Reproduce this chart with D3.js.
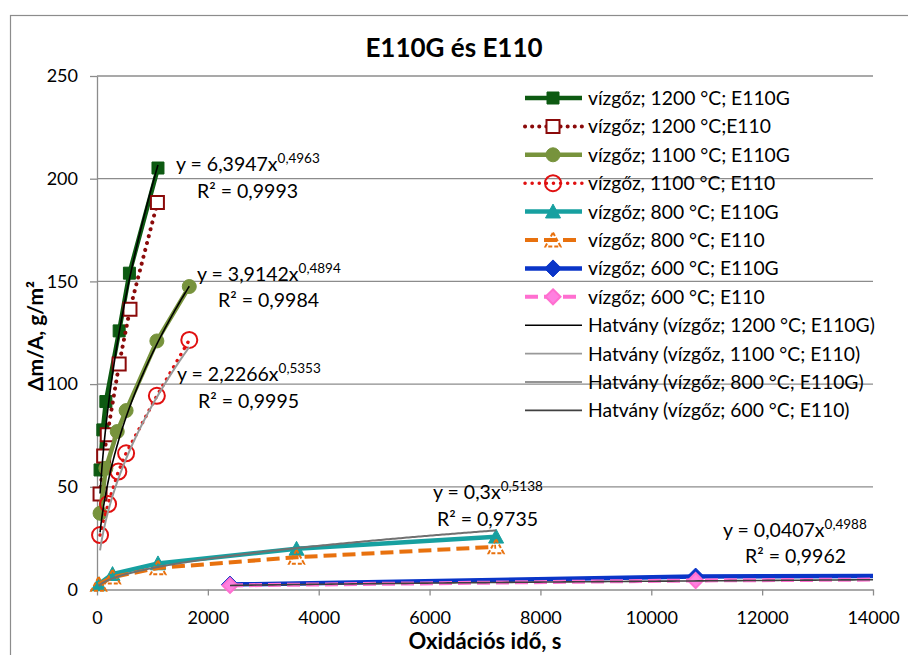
<!DOCTYPE html>
<html>
<head>
<meta charset="utf-8">
<script src="https://cdn.jsdelivr.net/npm/d3@7"></script>
<style>
  body { margin: 0; background: #fff; }
  svg { font-family: Lato, "Liberation Sans", sans-serif; }
</style>
</head>
<body>
<div id="graph"></div>
<script>
// measured data (time s, mass gain g/m2)
var t1200G = [55, 105, 160, 400, 585, 1100];
var m1200G = [58.2, 77.7, 91.5, 125.9, 154, 205.2];
var t1200 = [55, 120, 185, 400, 595, 1090];
var m1200 = [46.5, 65, 75.3, 109.8, 136.5, 188.4];
var t1100G = [55, 160, 365, 525, 1080, 1665];
var m1100G = [37.1, 59, 76.9, 87.1, 121, 147.5];
var t1100 = [55, 200, 385, 525, 1080, 1665];
var m1100 = [26.5, 41.6, 57.4, 66.3, 94.3, 121.5];
var t800G = [30, 280, 1100, 3600, 7200];
var m800G = [2.5, 7.5, 12.7, 19.8, 25.7];
var t800 = [30, 280, 1100, 3600, 7200];
var m800 = [2.5, 6.0, 10.5, 15.7, 20.8];
var t600G = [2400, 10800, 21600];
var m600G = [2.4, 6.3, 7.2];
var t600 = [2400, 10800, 21600];
var m600 = [2.0, 4.4, 5.8];

var seriesNames = ["vízgőz; 1200 °C; E110G", "vízgőz; 1200 °C;E110", "vízgőz; 1100 °C; E110G", "vízgőz, 1100 °C; E110",
  "vízgőz; 800 °C; E110G", "vízgőz; 800 °C; E110", "vízgőz; 600 °C; E110G", "vízgőz; 600 °C; E110"];

// power trendlines y = a * x^b
var trendSeries = [0, 2, 3, 4, 7];
var trendA = [6.3947, 3.9142, 2.2266, 0.3, 0.0407];
var trendB = [0.4963, 0.4894, 0.5353, 0.5138, 0.4988];
var trendR2 = ["0,9993", "0,9984", "0,9995", "0,9735", "0,9962"];
var trendNames = ["Hatvány (vízgőz; 1200 °C; E110G)", "Hatvány (vízgőz, 1100 °C; E110)", "Hatvány (vízgőz; 800 °C; E110G)", "Hatvány (vízgőz; 600 °C; E110)"];

var xTicks = [0, 2000, 4000, 6000, 8000, 10000, 12000, 14000];
var yTicks = [0, 50, 100, 150, 200, 250];

var width = 908, height = 655;
var x = d3.scaleLinear().domain([0, 14000]).range([97, 873]);
var y = d3.scaleLinear().domain([0, 250]).range([589.5, 76]);

var times = [t1200G, t1200, t1100G, t1100, t800G, t800, t600G, t600];
var masses = [m1200G, m1200, m1100G, m1100, m800G, m800, m600G, m600];

var styles = [
  {color: "#0d5a12", width: 4.5, dash: null, marker: "square", fill: "#0d5a12", size: 12},
  {color: "#8b0a0a", width: 4, dash: "0.1 7", marker: "square", fill: "#fff", size: 13},
  {color: "#77933c", width: 4.5, dash: null, marker: "circle", fill: "#77933c", size: 14},
  {color: "#e01010", width: 3.5, dash: "0.1 7", marker: "circle", fill: "none", size: 16},
  {color: "#17a0a0", width: 4.5, dash: null, marker: "triangle", fill: "#17a0a0", size: 15},
  {color: "#e8710e", width: 4, dash: "13 6", marker: "triangle", fill: "none", size: 15},
  {color: "#0a35c8", width: 4.5, dash: null, marker: "diamond", fill: "#0a35c8", size: 17},
  {color: "#ff6fd0", width: 4, dash: "13 6", marker: "diamond", fill: "#ff80e0", size: 15}
];
var trendColors = ["#000", "#000", "#999", "#707070", "#404040"];
var trendWidths = [1.6, 1.6, 2, 2, 1.6];

var svg = d3.select('#graph')
  .append('svg')
  .attr('width', width)
  .attr('height', height);

// chart frame
svg.append('rect')
  .attr('x', 10.5).attr('y', 15.5)
  .attr('width', 920).attr('height', 660)
  .attr('fill', 'none').attr('stroke', '#8c8c8c').attr('stroke-width', 1.2);

svg.append('defs').append('clipPath').attr('id', 'plot')
  .append('rect').attr('x', 90).attr('y', 60).attr('width', 783).attr('height', 540);

// gridlines
svg.append('g').selectAll('line')
  .data(yTicks.slice(1))
  .enter().append('line')
  .attr('x1', x(0)).attr('x2', x(14000))
  .attr('y1', function(d){ return y(d); }).attr('y2', function(d){ return y(d); })
  .attr('stroke', '#8c8c8c').attr('stroke-width', 1.3);

// axes
var xAxis = svg.append('g')
  .attr('transform', 'translate(0,' + y(0) + ')')
  .call(d3.axisBottom(x).tickValues(xTicks).tickSize(6).tickSizeOuter(0).tickPadding(16).tickFormat(d3.format('d')));
var yAxis = svg.append('g')
  .attr('transform', 'translate(' + x(0) + ',0)')
  .call(d3.axisLeft(y).tickValues(yTicks).tickSize(7).tickSizeOuter(0).tickPadding(12));
[xAxis, yAxis].forEach(function(g){
  g.selectAll('path, line').attr('stroke', '#8c8c8c').attr('stroke-width', 1.3);
  g.selectAll('text').attr('font-family', 'Lato').attr('font-size', 18).attr('fill', '#000');
});

// marker shapes
function markerPath(type, s) {
  var h = s / 2;
  if (type === 'square') return 'M' + (-h) + ',' + (-h) + 'h' + s + 'v' + s + 'h' + (-s) + 'Z';
  if (type === 'triangle') return 'M0,' + (-h) + 'L' + h + ',' + (h * 0.85) + 'L' + (-h) + ',' + (h * 0.85) + 'Z';
  if (type === 'diamond') return 'M0,' + (-h) + 'L' + h + ',0L0,' + h + 'L' + (-h) + ',0Z';
  return d3.symbol(d3.symbolCircle, Math.PI * h * h)();
}

function drawMarker(g, st, cx, cy) {
  g.append('path')
    .attr('d', markerPath(st.marker, st.size))
    .attr('transform', 'translate(' + cx + ',' + cy + ')')
    .attr('fill', st.fill)
    .attr('stroke', st.color)
    .attr('stroke-width', st.fill === st.color ? 1 : 2)
    .attr('stroke-dasharray', st.marker === 'triangle' && st.fill === 'none' ? '4 2' : null);
}

var line = d3.line().x(function(d){ return x(d[0]); }).y(function(d){ return y(d[1]); });

var seriesG = svg.append('g');
times.forEach(function(ts, i) {
  var st = styles[i];
  var pts = ts.map(function(t, j){ return [t, masses[i][j]]; });
  var g = seriesG.append('g');
  g.append('path')
    .attr('d', line(pts))
    .attr('clip-path', 'url(#plot)')
    .attr('fill', 'none')
    .attr('stroke', st.color)
    .attr('stroke-width', st.width)
    .attr('stroke-linecap', st.dash && st.dash.indexOf('0.1') === 0 ? 'round' : 'butt')
    .attr('stroke-dasharray', st.dash);
  pts.filter(function(p){ return p[0] <= 14000; }).forEach(function(p){
    drawMarker(g, st, x(p[0]), y(p[1]));
  });
});

// trendlines
trendSeries.forEach(function(si, k) {
  var ts = times[si];
  var lo = ts[0], hi = ts[ts.length - 1];
  var pts = d3.range(0, 201).map(function(n){
    var t = lo + (hi - lo) * n / 200;
    return [t, trendA[k] * Math.pow(t, trendB[k])];
  });
  svg.append('path')
    .attr('d', line(pts))
    .attr('clip-path', 'url(#plot)')
    .attr('fill', 'none')
    .attr('stroke', trendColors[k])
    .attr('stroke-width', trendWidths[k]);
});

// trendline equations
var eqPos = [[176, 171, 197, 198], [197, 281, 218, 307], [177, 381, 198, 408], [433, 499, 437, 526], [723, 537, 745, 563]];
function fmt(v) { return String(v).replace('.', ','); }
trendA.forEach(function(a, k) {
  var p = eqPos[k];
  var t = svg.append('text').attr('x', p[0]).attr('y', p[1]).attr('font-size', 19.5);
  t.append('tspan').text('y = ' + fmt(a) + 'x');
  t.append('tspan').attr('dy', -8).attr('font-size', 13.5).text(fmt(trendB[k]));
  svg.append('text').attr('x', p[2]).attr('y', p[3]).attr('font-size', 19.5)
    .text('R² = ' + trendR2[k]);
});

// legend
var legend = svg.append('g');
var rowH = 28.4, ly0 = 98;
seriesNames.forEach(function(name, i) {
  var st = styles[i];
  var cy = ly0 + i * rowH;
  var g = legend.append('g');
  g.append('line').attr('x1', 525).attr('x2', 582).attr('y1', cy).attr('y2', cy)
    .attr('stroke', st.color).attr('stroke-width', st.width)
    .attr('stroke-linecap', st.dash && st.dash.indexOf('0.1') === 0 ? 'round' : 'butt')
    .attr('stroke-dasharray', st.dash);
  drawMarker(g, st, 553, cy);
  g.append('text').attr('x', 588).attr('y', cy + 7).attr('font-size', 19.3).text(name);
});
trendNames.forEach(function(name, k) {
  var cy = ly0 + (seriesNames.length + k) * rowH;
  legend.append('line').attr('x1', 525).attr('x2', 582).attr('y1', cy).attr('y2', cy)
    .attr('stroke', ["#000", "#999", "#707070", "#404040"][k]).attr('stroke-width', 1.6);
  legend.append('text').attr('x', 588).attr('y', cy + 7).attr('font-size', 19.3).text(name);
});

// titles
svg.append('text').attr('x', 454).attr('y', 57).attr('text-anchor', 'middle')
  .attr('font-size', 26).attr('font-weight', 'bold').text('E110G és E110');
svg.append('text').attr('x', 485).attr('y', 649).attr('text-anchor', 'middle')
  .attr('font-size', 22).attr('font-weight', 'bold').text('Oxidációs idő, s');
svg.append('text').attr('transform', 'translate(43,336) rotate(-90)').attr('text-anchor', 'middle')
  .attr('font-size', 21).attr('font-weight', 'bold').text('Δm/A, g/m²');
</script>
</body>
</html>
